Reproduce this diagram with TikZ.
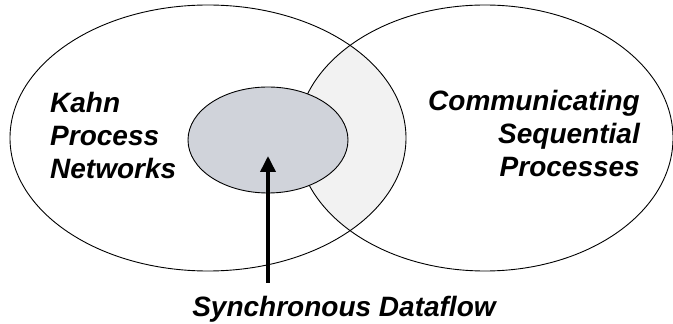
\documentclass[tikz,border=0pt]{standalone}
\usepackage{fontspec}
\setmainfont{Liberation Sans}
\usetikzlibrary{shapes.geometric,arrows.meta}

\tikzset{
  modelset/.style={ellipse, draw, line width=0.9pt, inner sep=0pt},
  modeltext/.style={inner sep=0pt, font=\fontsize{28}{33}\selectfont\bfseries\itshape},
  sdfarrow/.style={line width=3.6pt, -{Triangle[width=15pt,length=16pt]}}
}

\begin{document}
\begin{tikzpicture}[x=1pt, y=1pt]
    \useasboundingbox (0,0) rectangle (673,324);
    % shaded overlap of the two models
    \begin{scope}
      \clip (208,186) ellipse (198 and 133);
      \fill[black!5] (485,186) ellipse (188 and 133);
    \end{scope}
    \node[modelset, minimum width=396pt, minimum height=266pt] (kpn) at (208,186) {};
    \node[modelset, minimum width=376pt, minimum height=266pt] (csp) at (485,186) {};
    \node[modelset, fill={rgb,255:red,208;green,211;blue,218}, minimum width=160pt, minimum height=106pt] (sdf) at (268,184) {};

    \node[modeltext, align=left, anchor=base west] (kpnlabel) at (50,145) {Kahn\\Process\\Networks};
    \node[modeltext, align=right, anchor=base east] (csplabel) at (640,147) {Communicating\\Sequential\\Processes};
    \node[modeltext, anchor=base] (sdflabel) at (344,7) {Synchronous Dataflow};

    \coordinate (foot) at (268,41);
    \coordinate (tip) at (268,168);
    \draw[sdfarrow] (foot) -- (tip);
\end{tikzpicture}
\end{document}
